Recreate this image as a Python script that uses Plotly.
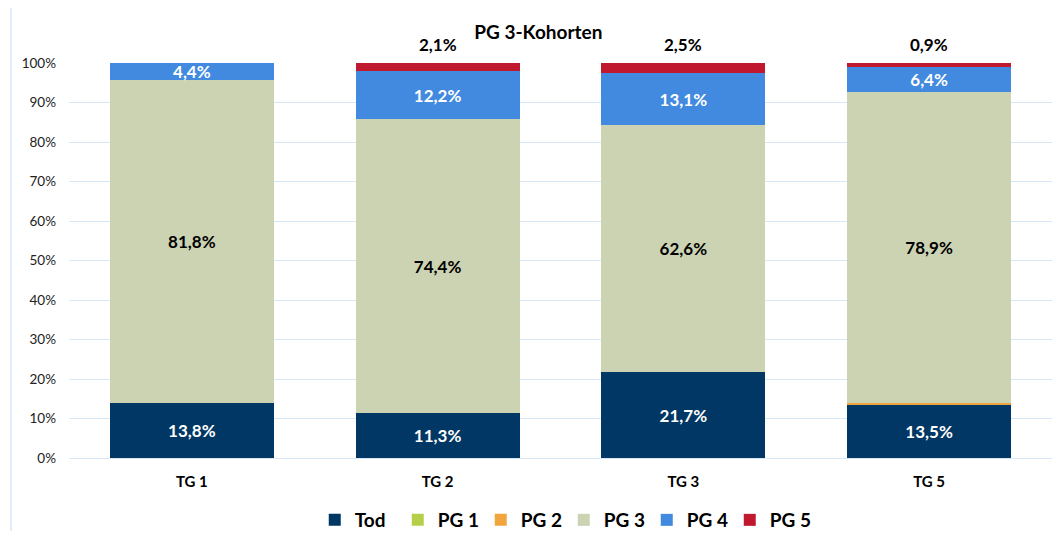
import plotly.graph_objects as go

categories = ["TG 1", "TG 2", "TG 3", "TG 5"]
tod = [13.8, 11.3, 21.7, 13.5]
pg1 = [0.0, 0.0, 0.0, 0.0]
pg2 = [0.0, 0.0, 0.0, 0.3]
pg3 = [81.8, 74.4, 62.6, 78.9]
pg4 = [4.4, 12.2, 13.1, 6.4]
pg5 = [0.0, 2.1, 2.5, 0.9]
y_ticks = [0, 10, 20, 30, 40, 50, 60, 70, 80, 90, 100]

FONT = "Lato"


def fmt(v):
    return f"{v:.1f}".replace(".", ",") + "%"


series = [
    ("Tod", tod, "#003764", True, "white"),
    ("PG 1", pg1, "#b5cf4b", False, None),
    ("PG 2", pg2, "#f0a63c", False, None),
    ("PG 3", pg3, "#ccd3b2", True, "black"),
    ("PG 4", pg4, "#428ae0", True, "white"),
    ("PG 5", pg5, "#c0182f", False, None),
]

fig = go.Figure()
for name, vals, color, labelled, tcolor in series:
    kw = {}
    if labelled:
        kw = dict(
            text=[fmt(v) if v > 0 else "" for v in vals],
            textposition="inside",
            insidetextanchor="middle",
            textangle=0,
            constraintext="none",
            textfont=dict(family=FONT, size=17, color=tcolor, weight="bold"),
        )
    fig.add_trace(go.Bar(
        name=name, x=categories, y=vals,
        marker=dict(color=color, line=dict(width=0)),
        hoverinfo="skip", **kw,
    ))

# PG 5 labels above the bars (paper y so they are drawn beyond the 100% range)
for c, v in zip(categories, pg5):
    if v > 0:
        fig.add_annotation(x=c, y=1.046, xref="x", yref="paper", text=fmt(v),
                           showarrow=False, yanchor="middle",
                           font=dict(family=FONT, size=17, color="black", weight="bold"))

# chart border on the left
fig.add_shape(type="line", xref="paper", yref="paper", x0=-0.059, x1=-0.059,
              y0=-0.21, y1=1.17, line=dict(color="#c5dcf5", width=1))

# page body has an 8px margin: figure is offset by 8px in both directions
fig.update_layout(
    width=1045, height=523,
    margin=dict(l=61, r=1, t=55, b=73),
    barmode="stack", bargap=0.333,
    plot_bgcolor="white", paper_bgcolor="white",
    title=dict(text="<b>PG 3-Kohorten</b>", x=0.5075, xanchor="center",
               y=1 - 24 / 523, yanchor="middle", yref="container",
               font=dict(family=FONT, size=19, color="black")),
    legend=dict(orientation="h", x=0.25, xanchor="left",
                yref="container", y=(523 - 512) / 523, yanchor="middle",
                font=dict(family=FONT, size=19, color="black", weight="bold"),
                traceorder="normal", itemwidth=30, entrywidth=38),
    showlegend=True,
)
fig.update_yaxes(range=[0, 100], tickvals=y_ticks,
                 ticktext=[f"{t}%" for t in y_ticks],
                 showgrid=True, gridcolor="#d6e7f8", gridwidth=1,
                 zeroline=True, zerolinecolor="#d6e7f8", zerolinewidth=1,
                 showline=False, ticklabelstandoff=12,
                 tickfont=dict(family=FONT, size=13.5, color="#222"))
fig.update_xaxes(showgrid=False, showline=False, ticklabelstandoff=13,
                 tickfont=dict(family=FONT, size=15, color="black", weight="bold"))

fig.write_html("out.html")
